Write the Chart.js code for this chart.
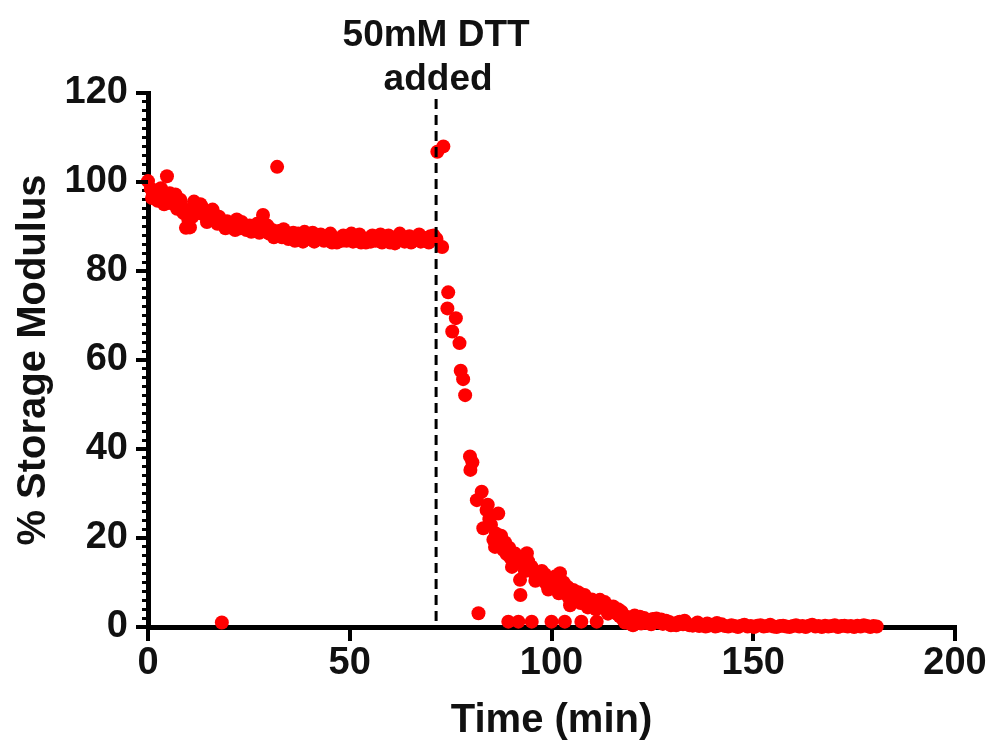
<!DOCTYPE html>
<html>
<head>
<meta charset="utf-8">
<title>Storage modulus after DTT</title>
<script src="https://cdn.jsdelivr.net/npm/chart.js@4"></script>
<style>
  html, body { margin: 0; padding: 0; background: #fff; }
  #wrap { width: 991px; height: 740px; position: relative; }
</style>
</head>
<body>
<div id="wrap"><canvas id="modulusChart"></canvas></div>
<script>
// Time (min) and % storage modulus before DTT was added
const baseTime = [
  0, 0.7, 1.3, 2, 2.8, 3.5, 4.2, 4.7, 5.4, 6, 6.8, 7.5, 8.3, 8.8, 9.4, 10,
  10.7, 11.4, 12.1, 12.8, 13.5, 14.2, 15, 15.8, 16.5, 17.2, 18, 18.3, 18.8,
  19.6, 20.4, 21.2, 22, 22.8, 23.6, 24.4, 25.2, 26, 26.8, 27.6, 28.5, 29.2,
  30, 30.8, 31.6, 32, 32.4, 33.2, 34, 34.8, 35.6, 36.4, 37.2, 38, 38.8, 39.6,
  40.4, 41.2, 42, 42.8, 43.6, 44.4, 45.2, 46, 46.8, 47.6, 48.4, 49.2, 50,
  50.8, 51.6, 52.4, 53.2, 54, 54.8, 55.6, 56.4, 57.2, 58, 58.8, 59.6, 60.4,
  61.2, 62, 62.8, 63.6, 64.4, 65.2, 66, 66.8, 67.6, 68.4, 69.2, 70, 70.8, 71.5,
  // second pass through the same stretch
  1.0, 2.4, 3.2, 4.0, 5.8, 7.2, 8.0, 9.8, 10.4, 11.0, 11.8, 13.0, 14.6, 16.0,
  17.6, 19.2, 21.6, 23.2, 25.6, 27.0, 29.6, 31.2, 33.6, 36.0, 38.4, 40.8, 43.2,
  45.6, 48.0, 50.4, 52.8, 55.2, 57.6, 60.0, 62.4, 64.8, 67.2, 69.6
];
const baseModulus = [
  100.2, 98.5, 97.2, 98.0, 96.8, 97.6, 96.2, 101.3, 97.5, 96.4, 97.2, 95.8, 94.6, 93.0, 89.7, 91.5,
  93.8, 95.6, 94.4, 93.0, 94.2, 92.4, 93.2, 91.6, 92.6, 90.6, 91.4, 1.0, 90.2,
  91.2, 89.8, 90.6, 91.6, 89.6, 90.4, 89.2, 90.2, 89.0, 89.8, 88.6, 92.6, 89.4,
  88.4, 89.2, 88.0, 103.4, 89.0, 87.6, 88.6, 87.2, 88.2, 86.8, 88.4, 87.4, 88.8, 87.2,
  87.8, 86.6, 87.6, 88.2, 86.8, 87.6, 88.4, 87.2, 86.4, 87.4, 88.0, 86.8, 87.6,
  86.6, 87.4, 88.2, 87.0, 86.4, 87.4, 88.0, 86.8, 87.6, 86.4, 87.2, 88.0, 87.0,
  86.2, 87.4, 87.8, 86.6, 87.4, 86.4, 87.2, 87.8, 86.6, 87.4, 86.8, 87.8, 88.0, 87.2,
  96.4, 95.8, 98.6, 95.0, 95.2, 94.0, 96.0, 92.6, 89.8, 92.2, 93.0, 95.0, 91.0, 93.8,
  92.2, 89.6, 89.2, 91.0, 88.8, 90.6, 90.2, 87.6, 89.4, 88.6, 86.6, 88.6, 87.8,
  86.4, 86.8, 88.4, 86.4, 86.6, 88.2, 86.4, 88.4, 87.8, 88.2, 86.4
];

// After DTT was added
const dropTime = [
  71.7, 73.2, 72.9, 74.4, 74.2, 76.3, 75.4, 77.2, 77.5, 78.1, 78.6, 79.8, 80.4, 79.9,
  81.9, 82.7, 81.5, 83.9, 83.1, 84.6, 85.6, 86.8, 86.2, 87.2, 88.1, 88.9, 89.3, 89.8,
  90.6, 91.3, 91.8, 92.2, 92.3, 93.0, 93.9, 94.6, 95.1, 95.6, 96.5, 97.2, 98.0, 98.8,
  99.6, 100.0, 100.6, 101.3, 102.1, 102.6, 103.3, 103.6, 104.6, 105.0, 105.4, 106.2,
  107.4, 107.9, 108.6, 109.5, 110.4, 111.2, 112.0, 112.8, 113.7, 114.5, 115.3, 116.1,
  116.9, 117.8, 118.6, 119.4, 120.2, 121.0, 121.9, 122.7, 123.5, 124.3, 125.1, 126.0,
  126.8, 127.6, 128.4, 129.2, 130.0, 130.9, 131.8, 132.6, 133.4, 134.2, 135.0, 135.8,
  136.6, 137.4, 138.2, 139.0, 139.8, 140.6, 141.4, 142.2, 143.0, 143.8, 144.6, 145.4,
  146.2, 147.0, 147.8, 148.6, 149.4, 150.2, 151.0, 151.8, 152.6, 153.4, 154.2, 155.0,
  155.8, 156.6, 157.4, 158.2, 159.0, 159.8, 160.6, 161.4, 162.2, 163.0, 163.8, 164.6,
  165.4, 166.2, 167.0, 167.8, 168.6, 169.4, 170.2, 171.0, 171.8, 172.6, 173.4, 174.2,
  175.0, 175.8, 176.6, 177.4, 178.2, 179.0, 179.8, 180.6,
  // second pass through the decay
  84.2, 85.0, 86.0, 87.5, 88.5, 89.5, 90.2, 91.0, 92.0, 93.4, 94.2, 95.0, 96.0,
  97.6, 98.4, 99.2, 100.2, 101.0, 101.8, 103.0, 104.0, 104.4, 106.6, 107.2, 108.2,
  109.0, 110.0, 111.0, 111.6, 113.2, 114.0, 116.5, 117.4, 118.2, 119.8, 120.6, 122.2,
  123.0, 124.7, 125.6, 127.2, 129.6, 131.3, 133.0, 136.2, 138.6, 141.0
];
const dropModulus = [
  106.8, 108.0, 85.4, 75.2, 71.6, 69.4, 66.4, 63.8, 57.6, 55.7, 52.1, 38.3, 37.0, 35.3,
  3.1, 30.4, 28.5, 26.3, 22.2, 24.2, 19.6, 25.5, 21.0, 18.6, 17.3, 16.4, 1.2, 15.6,
  14.8, 14.3, 1.2, 10.6, 7.2, 14.2, 16.6, 12.8, 1.2, 12.2, 11.4, 11.0, 10.4, 9.6,
  9.8, 1.2, 10.8, 8.8, 12.1, 8.4, 1.2, 7.4, 4.9, 7.6, 8.3, 6.4,
  1.2, 6.8, 5.8, 5.4, 4.8, 1.2, 6.1, 4.4, 3.8, 4.2, 4.6, 3.0,
  2.4, 1.6, 2.3, 0.8, 0.4, 1.4, 2.3, 1.2, 0.9, 1.6, 1.8, 1.9,
  1.0, 0.7, 1.4, 1.1, 0.8, 0.4, 1.2, 0.6, 0.9, 0.4, 0.3, 0.6,
  0.2, 0.4, 0.1, 0.3, 0.5, 0.1, 0.3, 0.6, 0.2, 0.1, 0.4, 0.2,
  0.0, 0.3, 0.5, 0.1, 0.2, 0.0, 0.3, 0.4, 0.1, 0.2, 0.5, 0.1,
  0.0, 0.2, 0.3, 0.1, 0.0, 0.2, 0.4, 0.1, 0.2, 0.0, 0.3, 0.5,
  0.1, 0.2, 0.0, 0.3, 0.1, 0.2, 0.4, 0.0, 0.2, 0.3, 0.1, 0.2,
  0.0, 0.3, 0.1, 0.4, 0.2, 0.0, 0.2, 0.1,
  27.5, 23.0, 18.0, 20.5, 19.0, 17.8, 13.5, 16.5, 15.2, 12.6, 14.8, 13.6, 10.4,
  12.6, 11.8, 8.4, 9.2, 11.4, 7.6, 10.0, 9.0, 6.4, 7.8, 5.4, 7.2,
  4.4, 6.2, 4.0, 5.2, 5.6, 3.0, 4.0, 3.4, 1.0, 1.8, 2.6, 0.8,
  2.0, 0.6, 1.2, 1.7, 0.4, 1.0, 1.4, 1.0, 0.8, 0.9
];

const dttTime = 71.4;
const dttLabel = ['50mM DTT', 'added'];
const xTicks = [0, 50, 100, 150, 200];
const yTicks = [0, 20, 40, 60, 80, 100, 120];

const FONT = '"Liberation Sans", Arial, Helvetica, sans-serif';
const INK = '#111';

const points = baseTime.map((t, i) => ({ x: t, y: baseModulus[i] }))
  .concat(dropTime.map((t, i) => ({ x: t, y: dropModulus[i] })));

// dashed line at DTT addition + label, longer major ticks on y
const dttMarker = {
  id: 'dttMarker',
  afterDatasetsDraw(chart) {
    const { ctx, chartArea, scales } = chart;
    const x = scales.x.getPixelForValue(dttTime);
    ctx.save();
    ctx.strokeStyle = '#000';
    ctx.lineWidth = 3;
    ctx.setLineDash([10, 6]);
    ctx.beginPath();
    ctx.moveTo(x, chartArea.top + 6);
    ctx.lineTo(x, chartArea.bottom);
    ctx.stroke();
    ctx.restore();
  },
  afterDraw(chart) {
    const { ctx, chartArea, scales } = chart;
    const x = scales.x.getPixelForValue(dttTime);
    ctx.save();
    ctx.fillStyle = INK;
    ctx.font = 'bold 37px ' + FONT;
    ctx.textAlign = 'center';
    ctx.textBaseline = 'alphabetic';
    ctx.fillText(dttLabel[0], x, 46);
    ctx.fillText(dttLabel[1], x + 2, 90);

    // major y ticks stick out further than the minor ones
    const y = scales.y;
    ctx.strokeStyle = '#000';
    ctx.lineWidth = 4;
    yTicks.forEach(v => {
      const py = y.getPixelForValue(v);
      ctx.beginPath();
      ctx.moveTo(chartArea.left - 12, py);
      ctx.lineTo(chartArea.left, py);
      ctx.stroke();
    });
    ctx.restore();
  }
};

new Chart(document.getElementById('modulusChart'), {
  type: 'scatter',
  data: {
    datasets: [{
      label: '% Storage Modulus',
      data: points,
      backgroundColor: '#ff0000',
      borderWidth: 0,
      pointRadius: 7,
      pointHoverRadius: 7,
      clip: false
    }]
  },
  options: {
    responsive: true,
    maintainAspectRatio: false,
    animation: false,
    events: [],
    layout: { padding: { top: 93, right: 36, left: 0, bottom: 0 } },
    plugins: {
      legend: { display: false },
      tooltip: { enabled: false }
    },
    scales: {
      x: {
        type: 'linear',
        min: 0,
        max: 200,
        afterFit: s => { s.height = 113; },
        afterBuildTicks: s => { s.ticks = xTicks.map(v => ({ value: v })); },
        border: { display: true, color: '#000', width: 5 },
        grid: { drawOnChartArea: false, drawTicks: true, tickLength: 14, color: '#000', lineWidth: 4 },
        ticks: {
          color: INK,
          font: { family: FONT, size: 38, weight: 'bold' },
          padding: 0,
          maxRotation: 0
        },
        title: {
          display: true,
          text: 'Time (min)',
          color: INK,
          font: { family: FONT, size: 40, weight: 'bold' },
          padding: { top: 0, bottom: -5 }
        }
      },
      y: {
        type: 'linear',
        min: 0,
        max: 120,
        afterFit: s => { s.width = 148; },
        border: { display: true, color: '#000', width: 5 },
        grid: { drawOnChartArea: false, drawTicks: true, tickLength: 6, color: '#000', lineWidth: 3 },
        ticks: {
          stepSize: 2,
          autoSkip: false,
          color: INK,
          font: { family: FONT, size: 38, weight: 'bold' },
          padding: 14,
          callback: v => (yTicks.includes(v) ? String(v) : '')
        },
        title: {
          display: true,
          text: '% Storage Modulus',
          color: INK,
          font: { family: FONT, size: 40, weight: 'bold' },
          padding: { top: 10, bottom: 0 }
        }
      }
    }
  },
  plugins: [dttMarker]
});
</script>
</body>
</html>
